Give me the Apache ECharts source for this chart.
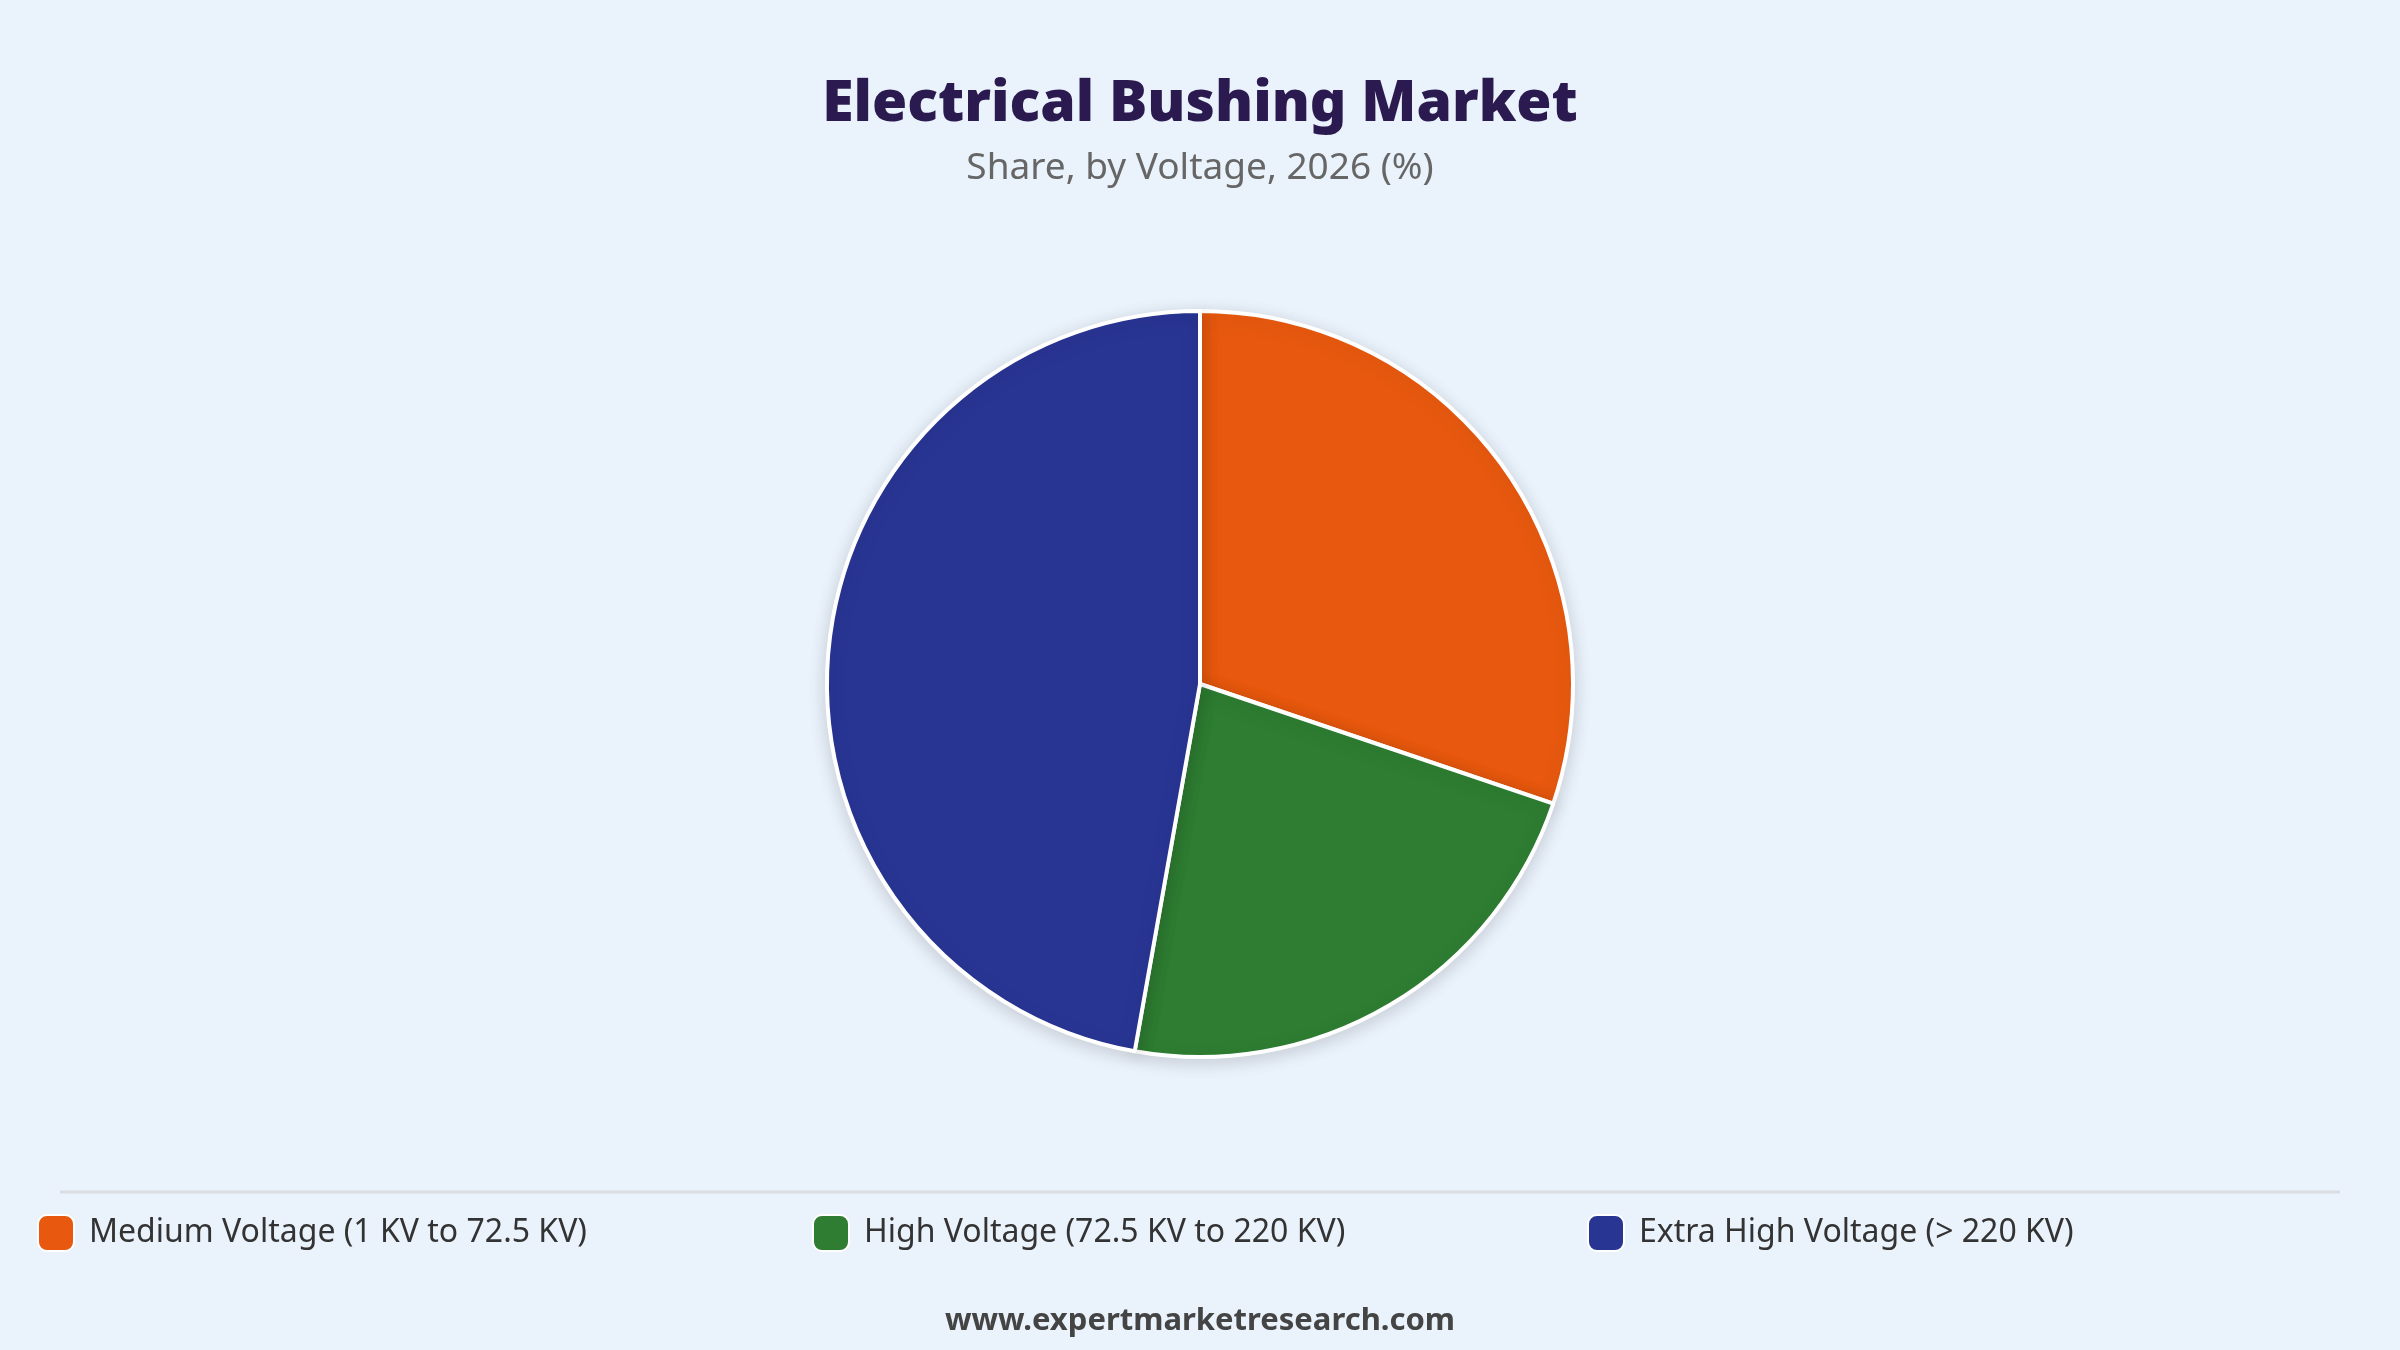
<!DOCTYPE html>
<html>
<head>
    <meta charset="utf-8">
    <title>Electrical Bushing Market</title>
    <script src="https://cdn.jsdelivr.net/npm/echarts@6/dist/echarts.min.js"></script>
    <style>
        html, body { margin: 0; padding: 0; background: #EAF2FB; }
        #main { width: 2400px; height: 1350px; }
    </style>
</head>
<body>
    <div id="main"></div>
    <script type="text/javascript">
        // data
        var categories = ['Medium Voltage (1 KV to 72.5 KV)', 'High Voltage (72.5 KV to 220 KV)', 'Extra High Voltage (> 220 KV)'];
        var shares = [30.2, 22.6, 47.2];
        var colors = ['#E8590F', '#2E7D32', '#283593'];

        var myChart = echarts.init(document.getElementById('main'));
        var font = '"Noto Sans", "Open Sans", sans-serif';

        var pieData = categories.map(function (name, i) {
            return { name: name, value: shares[i], itemStyle: { color: colors[i] } };
        });

        // one legend per item so each sits at a fixed column
        var legendLeft = [37, 812, 1587];
        var legends = categories.map(function (name, i) {
            return {
                data: [name],
                left: legendLeft[i],
                top: 1214,
                padding: 0,
                icon: 'roundRect',
                itemWidth: 36,
                itemHeight: 36,
                selectedMode: false,
                textStyle: { fontFamily: font, fontSize: 32, color: '#333333', padding: [0, 0, 0, 10] }
            };
        });

        var option = {
            backgroundColor: '#EAF2FB',
            title: [{
                text: 'Electrical Bushing Market',
                left: 'center',
                top: 71,
                textStyle: { fontFamily: font, fontSize: 57, fontWeight: 900, color: '#2B1A4F' }
            }, {
                text: 'Share, by Voltage, 2026 (%)',
                left: 'center',
                top: 145,
                textStyle: { fontFamily: font, fontSize: 37, fontWeight: 'normal', color: '#666666' }
            }, {
                text: 'www.expertmarketresearch.com',
                left: 'center',
                top: 1301,
                textStyle: { fontFamily: font, fontSize: 31, fontWeight: 'bold', color: '#444444' }
            }],
            legend: legends,
            graphic: [{
                type: 'line',
                shape: { x1: 60, y1: 1192, x2: 2340, y2: 1192 },
                style: { stroke: '#DADDE2', lineWidth: 3 }
            }],
            series: [{
                type: 'pie',
                center: [1200, 684],
                radius: 373,
                startAngle: 90,
                clockwise: true,
                label: { show: false },
                labelLine: { show: false },
                emphasis: { disabled: true },
                itemStyle: {
                    borderColor: '#FFFFFF',
                    borderWidth: 4,
                    shadowBlur: 18,
                    shadowColor: 'rgba(0, 0, 0, 0.15)',
                    shadowOffsetY: 4
                },
                data: pieData
            }]
        };

        myChart.setOption(option);
        window.onresize = myChart.resize;
    </script>
</body>
</html>
